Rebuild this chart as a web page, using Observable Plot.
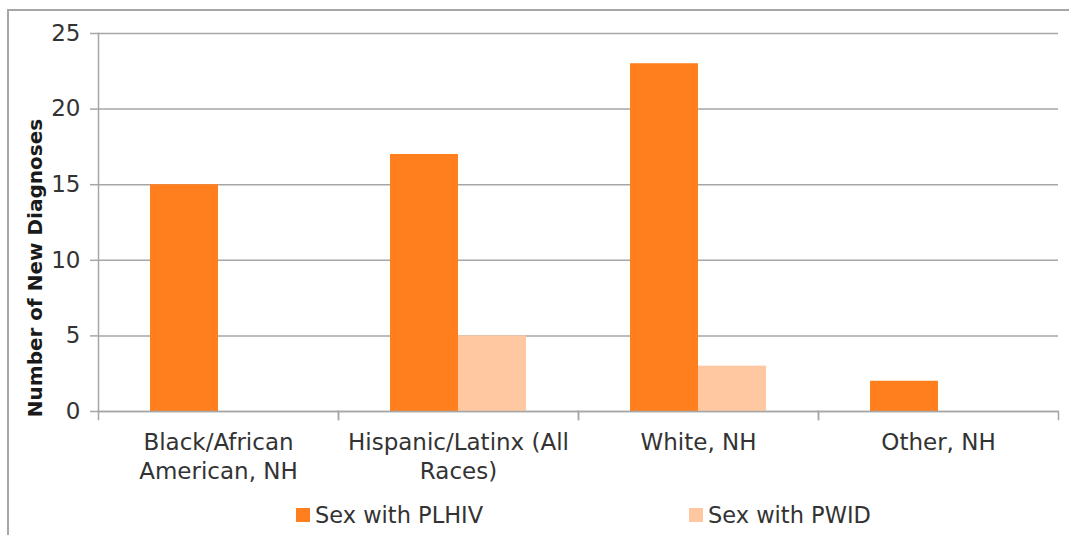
<!DOCTYPE html>
<html>
<head>
<meta charset="utf-8">
<script src="https://cdn.jsdelivr.net/npm/d3@7"></script>
<script src="https://cdn.jsdelivr.net/npm/@observablehq/plot@0.6"></script>
<style>
  html, body { margin: 0; padding: 0; background: #fff; }
  #wrap { position: relative; width: 1069px; height: 535px; overflow: hidden; font-family: "DejaVu Sans", sans-serif; }
  #border { position: absolute; left: 7px; top: 9px; width: 1100px; height: 600px; border-top: 2px solid #A6A6A6; border-left: 2px solid #A6A6A6; }
  #chart { position: absolute; left: 0; top: 0; }
  #ylabel { position: absolute; left: 35px; top: 268px; transform: translate(-50%, -50%) rotate(-90deg); font-weight: bold; font-size: 20px; color: #1a1a1a; white-space: nowrap; }
  .leg { position: absolute; top: 502px; font-size: 22.5px; color: #333; white-space: nowrap; display: flex; align-items: center; }
  .sw { display: inline-block; width: 14px; height: 14px; margin-right: 5px; }
</style>
</head>
<body>
<div id="wrap">
  <div id="border"></div>
  <div id="chart"></div>
  <div id="ylabel">Number of New Diagnoses</div>
  <div id="legend"></div>
</div>
<script>
const categories = ["Black/African American, NH", "Hispanic/Latinx (All Races)", "White, NH", "Other, NH"];
const categoryLabels = ["Black/African\nAmerican, NH", "Hispanic/Latinx (All\nRaces)", "White, NH", "Other, NH"];
const seriesNames = ["Sex with PLHIV", "Sex with PWID"];
const plhiv = [15, 17, 23, 2];
const pwid = [0, 5, 3, 0];
const colors = ["#FF7F1E", "#FFC8A0"];
const yTicks = [0, 5, 10, 15, 20, 25];

const data = categories.flatMap((c, i) => [
  {category: c, series: seriesNames[0], value: plhiv[i]},
  {category: c, series: seriesNames[1], value: pwid[i]}
]);

const gray = "#A6A6A6";
const chart = Plot.plot({
  width: 1069,
  height: 490,
  marginLeft: 98,
  marginRight: 11,
  marginTop: 33,
  marginBottom: 79,
  style: {fontFamily: "DejaVu Sans", fontSize: "22px", color: "#333", background: "transparent"},
  fx: {domain: categories, padding: 0, label: null},
  x: {domain: seriesNames, paddingInner: 0, paddingOuter: 0.74, axis: null},
  y: {domain: [0, 25]},
  color: {domain: seriesNames, range: colors},
  marks: [
    Plot.gridY(yTicks, {stroke: gray, strokeOpacity: 1, strokeWidth: 1.5}),
    Plot.barY(data, {fx: "category", x: "series", y: "value", fill: "series"}),
    Plot.ruleY([0], {stroke: gray, strokeWidth: 1.5}),
    Plot.frame({anchor: "left", facetAnchor: "left", stroke: gray, strokeWidth: 1.5}),
    Plot.frame({anchor: "left", insetTop: 378, insetBottom: -8, stroke: gray, strokeWidth: 1.5}),
    Plot.frame({anchor: "right", insetTop: 378, insetBottom: -8, stroke: gray, strokeWidth: 1.5}),
    Plot.axisY(yTicks, {tickSize: 8, tickPadding: 10, label: null, stroke: gray, strokeWidth: 1.5, fill: "#333", fontSize: 23}),
    Plot.axisFx({anchor: "bottom", tickSize: 0, tickPadding: 18, label: null, fill: "#333", fontSize: 23, lineHeight: 1.25,
      tickFormat: d => categoryLabels[categories.indexOf(d)]})
  ]
});
document.getElementById("chart").appendChild(chart);

const legendX = [296, 689];
const legend = document.getElementById("legend");
seriesNames.forEach((s, i) => {
  const el = document.createElement("div");
  el.className = "leg";
  el.style.left = legendX[i] + "px";
  el.innerHTML = `<span class="sw" style="background:${colors[i]}"></span>${s}`;
  legend.appendChild(el);
});
</script>
</body>
</html>
